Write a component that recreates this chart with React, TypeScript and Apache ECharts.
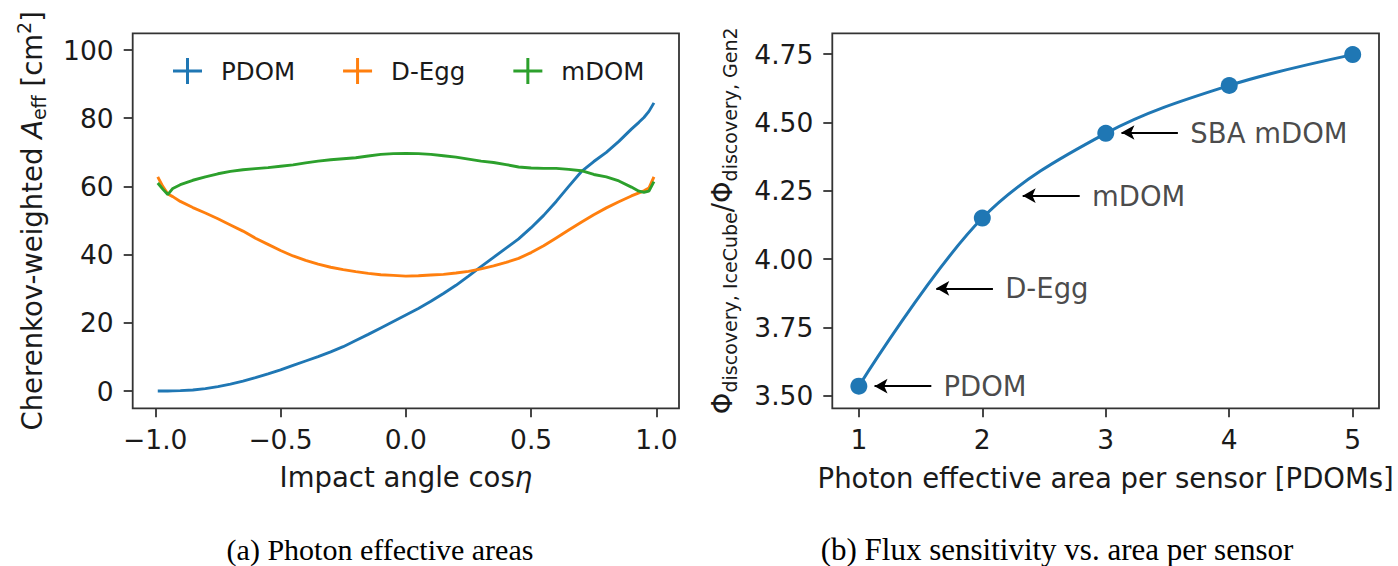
import React, { useEffect, useRef } from "react";
import * as echarts from "echarts";

// ---------- Data: (a) photon effective areas ----------
const angleX = [
  -0.99, -0.97, -0.95, -0.93, -0.9, -0.85, -0.8, -0.75, -0.7, -0.65, -0.6, -0.55, -0.5, -0.45, -0.4,
  -0.35, -0.3, -0.25, -0.2, -0.15, -0.1, -0.05, 0, 0.05, 0.1, 0.15, 0.2, 0.25, 0.3, 0.35, 0.4,
  0.45, 0.5, 0.55, 0.6, 0.65, 0.7, 0.75, 0.8, 0.85, 0.9, 0.93, 0.95, 0.97, 0.99,
];
const pdomArea = [
  0, 0, 0, 0.05, 0.1, 0.3, 0.7, 1.3, 2.0, 2.9, 3.9, 5.0, 6.2, 7.5, 8.8,
  10.1, 11.5, 13.0, 14.8, 16.6, 18.5, 20.4, 22.3, 24.2, 26.3, 28.6, 31.0, 33.7, 36.5, 39.2, 41.9,
  44.6, 47.9, 51.5, 55.6, 60.0, 64.3, 67.3, 70.0, 73.2, 76.8, 78.8, 80.2, 82.0, 84.5,
];
const deggArea = [
  62.8, 60.0, 57.8, 57.0, 55.6, 53.8, 52.2, 50.5, 48.7, 46.9, 44.8, 43.0, 41.2, 39.6, 38.3,
  37.2, 36.3, 35.6, 35.0, 34.5, 34.1, 33.9, 33.7, 33.8, 34.0, 34.2, 34.6, 35.1, 35.8, 36.7, 37.7,
  38.9, 40.6, 42.6, 44.9, 47.2, 49.5, 51.7, 53.7, 55.5, 57.2, 58.1, 58.7, 59.5, 62.8,
];
const mdomArea = [
  61.0, 59.2, 57.6, 59.4, 60.5, 61.8, 62.8, 63.7, 64.4, 64.9, 65.2, 65.5, 65.9, 66.3, 66.9,
  67.4, 67.8, 68.1, 68.4, 68.9, 69.4, 69.6, 69.7, 69.6, 69.4, 69.0, 68.6, 68.0, 67.4, 67.0, 66.4,
  65.7, 65.4, 65.3, 65.3, 65.0, 64.6, 63.5, 62.8, 61.6, 59.8, 58.6, 58.3, 58.6, 61.4,
];
const sensorNames = ["PDOM", "D-Egg", "mDOM"];
const sensorColors = ["#1f77b4", "#ff7f0e", "#2ca02c"];

// ---------- Data: (b) flux sensitivity ----------
const areaPerSensor = [1, 2, 3, 4, 5];
const fluxRatio = [3.535, 4.15, 4.46, 4.635, 4.748];

const annLabels = ["PDOM", "D-Egg", "mDOM", "SBA mDOM"];
const annTipX = [1.127, 1.627, 2.327, 3.127];
const annTailX = [1.587, 2.086, 2.789, 3.584];
const annY = [3.535, 3.893, 4.232, 4.463];
const annTextX = [1.681, 2.181, 2.884, 3.681];

// ---------- Ticks ----------
const leftXTicks = [-1, -0.5, 0, 0.5, 1];
const leftYTicks = [0, 20, 40, 60, 80, 100];
const rightXTicks = [1, 2, 3, 4, 5];
const rightYTicks = [3.5, 3.75, 4.0, 4.25, 4.5, 4.75];

const FONT = "DejaVu Sans";
const INK = "#1a1a1a";
const AX = "#333";

const tickStyle = (vals: number[]) => ({
  show: true,
  length: 9,
  customValues: vals,
  lineStyle: { color: AX, width: 1.8 },
});

export default function App() {
  const ref = useRef<HTMLDivElement>(null);

  useEffect(() => {
    const chart = echarts.init(ref.current!, null, { renderer: "svg" });

    const richMain = {
      a: { fontSize: 27.5, lineHeight: 34, verticalAlign: "middle", fontFamily: FONT, color: INK },
      i: { fontSize: 27.5, lineHeight: 34, verticalAlign: "middle", fontFamily: FONT, fontStyle: "italic", color: INK },
      s: { fontSize: 19, lineHeight: 19, verticalAlign: "bottom", fontFamily: FONT, color: INK },
      p: { fontSize: 19, lineHeight: 19, verticalAlign: "top", fontFamily: FONT, color: INK },
    };

    const leftSeries = [pdomArea, deggArea, mdomArea].map((vals, k) => ({
      name: sensorNames[k],
      type: "line",
      xAxisIndex: 0,
      yAxisIndex: 0,
      data: angleX.map((x, i) => [x, vals[i]]),
      showSymbol: false,
      symbol: "none",
      lineStyle: { color: sensorColors[k], width: 2.9 },
      itemStyle: { color: sensorColors[k] },
      z: 2 + k,
    }));

    const option: any = {
      animation: false,
      backgroundColor: "#fff",
      textStyle: { fontFamily: FONT },
      grid: [
        { left: 132.7, top: 33.3, width: 546.3, height: 375, show: true, borderColor: AX, borderWidth: 1.8, backgroundColor: "transparent" },
        { left: 832.3, top: 33.3, width: 546.7, height: 375, show: true, borderColor: AX, borderWidth: 1.8, backgroundColor: "transparent" },
      ],
      legend: {
        data: sensorNames,
        left: 168,
        top: 53,
        orient: "horizontal",
        itemWidth: 29,
        itemHeight: 26,
        itemGap: 48,
        icon: "path://M13,0h3v11.5h13v3h-13v11.5h-3v-11.5h-13v-3h13z",
        itemStyle: { borderWidth: 0 },
        textStyle: { fontSize: 24.5, fontFamily: FONT, color: INK, padding: [0, 0, 0, 14] },
      },
      xAxis: [
        {
          type: "value",
          gridIndex: 0,
          min: -1.09,
          max: 1.09,
          axisLine: { show: false, onZero: false },
          axisTick: tickStyle(leftXTicks),
          splitLine: { show: false },
          axisLabel: {
            customValues: leftXTicks,
            fontSize: 26.5,
            fontFamily: FONT,
            color: INK,
            margin: 18,
            formatter: (v: number) => (v < 0 ? "\u2212" : "") + Math.abs(v).toFixed(1),
          },
          name: "{a|Impact angle cos}{i|\u03b7}",
          nameLocation: "middle",
          nameGap: 52,
          nameTextStyle: { rich: richMain },
        },
        {
          type: "value",
          gridIndex: 1,
          min: 0.785,
          max: 5.213,
          axisLine: { show: false, onZero: false },
          axisTick: tickStyle(rightXTicks),
          splitLine: { show: false },
          axisLabel: {
            customValues: rightXTicks,
            fontSize: 26.5,
            fontFamily: FONT,
            color: INK,
            margin: 18,
            formatter: (v: number) => String(v),
          },
          name: "Photon effective area per sensor [PDOMs]",
          nameLocation: "middle",
          nameGap: 56,
          nameTextStyle: { fontSize: 27.5, fontFamily: FONT, color: INK },
        },
      ],
      yAxis: [
        {
          type: "value",
          gridIndex: 0,
          min: -5.07,
          max: 104.9,
          axisLine: { show: false, onZero: false },
          axisTick: tickStyle(leftYTicks),
          splitLine: { show: false },
          axisLabel: {
            customValues: leftYTicks,
            fontSize: 26.5,
            fontFamily: FONT,
            color: INK,
            margin: 19,
            formatter: (v: number) => String(v),
          },
          name: "{a|Cherenkov-weighted }{i|A}{s|eff}{a| [cm}{p|2}{a|]}",
          nameLocation: "middle",
          nameRotate: 90,
          nameGap: 84,
          nameTextStyle: { rich: richMain },
        },
        {
          type: "value",
          gridIndex: 1,
          min: 3.454,
          max: 4.826,
          axisLine: { show: false, onZero: false },
          axisTick: tickStyle(rightYTicks),
          splitLine: { show: false },
          axisLabel: {
            customValues: rightYTicks,
            fontSize: 26.5,
            fontFamily: FONT,
            color: INK,
            margin: 19,
            formatter: (v: number) => v.toFixed(2),
          },
          name: "{a|\u03a6}{s|discovery, IceCube}{a|/\u03a6}{s|discovery, Gen2}",
          nameLocation: "middle",
          nameRotate: 90,
          nameGap: 93,
          nameTextStyle: { rich: richMain },
        },
      ],
      series: [
        ...leftSeries,
        {
          name: "flux",
          type: "line",
          xAxisIndex: 1,
          yAxisIndex: 1,
          data: areaPerSensor.map((x, i) => [x, fluxRatio[i]]),
          smooth: 0.35,
          symbol: "circle",
          symbolSize: 17,
          showSymbol: true,
          lineStyle: { color: "#1f77b4", width: 3 },
          itemStyle: { color: "#1f77b4" },
          z: 3,
        },
        {
          name: "annotations",
          type: "scatter",
          xAxisIndex: 1,
          yAxisIndex: 1,
          symbolSize: 1,
          itemStyle: { color: "rgba(0,0,0,0)" },
          silent: true,
          data: annTextX.map((x, i) => ({ name: annLabels[i], value: [x, annY[i]] })),
          label: {
            show: true,
            position: "right",
            distance: 0,
            formatter: "{b}",
            fontSize: 27.5,
            fontFamily: FONT,
            color: INK,
          },
          markLine: {
            silent: true,
            symbol: ["arrow", "none"],
            symbolSize: [11, 13],
            label: { show: false },
            lineStyle: { color: "#000", width: 2, type: "solid" },
            emphasis: { disabled: true },
            data: annTipX.map((tx, i) => [
              { coord: [tx, annY[i]] },
              { coord: [annTailX[i], annY[i]] },
            ]),
          },
          z: 4,
        },
      ],
      graphic: [
        {
          type: "text",
          x: 380,
          y: 549,
          style: {
            text: "(a) Photon effective areas",
            fontSize: 30,
            fontFamily: "Liberation Serif",
            fill: "#000",
            align: "center",
            verticalAlign: "middle",
            textAlign: "center",
            textVerticalAlign: "middle",
          },
        },
        {
          type: "text",
          x: 1057,
          y: 549,
          style: {
            text: "(b) Flux sensitivity vs. area per sensor",
            fontSize: 31,
            fontFamily: "Liberation Serif",
            fill: "#000",
            align: "center",
            verticalAlign: "middle",
            textAlign: "center",
            textVerticalAlign: "middle",
          },
        },
      ],
    };

    chart.setOption(option);
    return () => chart.dispose();
  }, []);

  return (
    <div
      ref={ref}
      style={{ position: "absolute", left: 0, top: 0, width: 1398, height: 566, background: "#fff" }}
    />
  );
}
